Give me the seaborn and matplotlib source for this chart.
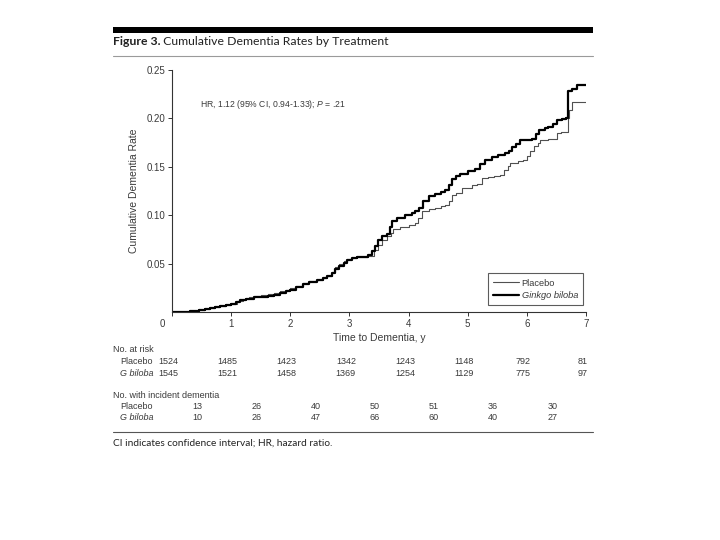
import matplotlib
matplotlib.use("Agg")
import matplotlib.pyplot as plt
import numpy as np
import pandas as pd
import seaborn as sns
from matplotlib.lines import Line2D
from matplotlib.transforms import blended_transform_factory, ScaledTranslation

# Kaplan-Meier style step data
ginkgo_time = [
    0, 0.30, 0.45, 0.55, 0.64, 0.72, 0.81, 0.92, 1.00, 1.08,
    1.15, 1.25, 1.38, 1.50, 1.62, 1.72, 1.83, 1.92, 2.00, 2.10,
    2.22, 2.32, 2.45, 2.55, 2.62, 2.70, 2.76, 2.82, 2.90, 2.96,
    3.05, 3.13, 3.32, 3.38, 3.44, 3.49, 3.55, 3.63, 3.68, 3.72,
    3.80, 3.94, 4.05, 4.11, 4.18, 4.25, 4.35, 4.45, 4.55, 4.62,
    4.68, 4.73, 4.80, 4.87, 5.00, 5.13, 5.21, 5.30, 5.41, 5.52,
    5.63, 5.70, 5.75, 5.82, 5.89, 6.09, 6.15, 6.20, 6.30, 6.36,
    6.44, 6.51, 6.60, 6.67, 6.69, 6.76, 6.85, 7.00,
]
ginkgo_rate = [
    0, 0.001, 0.002, 0.003, 0.004, 0.005, 0.006, 0.007, 0.008, 0.010,
    0.012, 0.013, 0.015, 0.016, 0.017, 0.018, 0.020, 0.022, 0.023, 0.026,
    0.029, 0.031, 0.033, 0.035, 0.037, 0.040, 0.044, 0.048, 0.051, 0.054,
    0.056, 0.057, 0.059, 0.063, 0.068, 0.074, 0.078, 0.081, 0.088, 0.094,
    0.097, 0.100, 0.102, 0.104, 0.107, 0.115, 0.120, 0.122, 0.124, 0.126,
    0.131, 0.137, 0.140, 0.143, 0.146, 0.148, 0.153, 0.157, 0.160, 0.162,
    0.164, 0.166, 0.170, 0.174, 0.178, 0.179, 0.184, 0.188, 0.190, 0.191,
    0.194, 0.198, 0.199, 0.200, 0.228, 0.230, 0.234, 0.235,
]
placebo_time = [
    0, 0.30, 0.45, 0.55, 0.64, 0.72, 0.81, 0.92, 1.00, 1.10,
    1.20, 1.30, 1.40, 1.50, 1.62, 1.72, 1.83, 1.92, 2.00, 2.10,
    2.22, 2.32, 2.45, 2.55, 2.62, 2.70, 2.76, 2.82, 2.90, 2.96,
    3.05, 3.13, 3.32, 3.41, 3.48, 3.55, 3.63, 3.70, 3.74, 3.85,
    4.00, 4.11, 4.16, 4.22, 4.35, 4.45, 4.55, 4.62, 4.68, 4.73,
    4.80, 4.90, 5.07, 5.16, 5.24, 5.35, 5.45, 5.55, 5.62, 5.68,
    5.72, 5.85, 5.94, 6.00, 6.06, 6.12, 6.18, 6.23, 6.35, 6.45,
    6.51, 6.58, 6.65, 6.69, 6.72, 6.76, 7.00,
]
placebo_rate = [
    0, 0.001, 0.002, 0.003, 0.004, 0.005, 0.006, 0.007, 0.008, 0.011,
    0.013, 0.015, 0.017, 0.018, 0.019, 0.020, 0.022, 0.023, 0.025, 0.027,
    0.030, 0.032, 0.033, 0.035, 0.037, 0.041, 0.046, 0.050, 0.053, 0.055,
    0.056, 0.057, 0.058, 0.064, 0.069, 0.074, 0.078, 0.082, 0.086, 0.088,
    0.090, 0.092, 0.097, 0.104, 0.106, 0.107, 0.109, 0.111, 0.115, 0.121,
    0.123, 0.128, 0.131, 0.132, 0.138, 0.139, 0.141, 0.142, 0.147, 0.151,
    0.154, 0.156, 0.157, 0.161, 0.166, 0.171, 0.175, 0.178, 0.179, 0.179,
    0.185, 0.186, 0.186, 0.200, 0.209, 0.217, 0.217,
]

years = [0, 1, 2, 3, 4, 5, 6, 7]
at_risk_placebo = [1524, 1485, 1423, 1342, 1243, 1148, 792, 81]
at_risk_ginkgo = [1545, 1521, 1458, 1369, 1254, 1129, 775, 97]
incident_placebo = [13, 26, 40, 50, 51, 36, 30]
incident_ginkgo = [10, 26, 47, 66, 60, 40, 27]

df = pd.concat([
    pd.DataFrame({"arm": "Placebo", "time": placebo_time, "rate": placebo_rate}),
    pd.DataFrame({"arm": "Ginkgo biloba", "time": ginkgo_time, "rate": ginkgo_rate}),
])

sns.set_style("ticks")
plt.rcParams["font.family"] = ["Liberation Sans", "DejaVu Sans"]
plt.rcParams["mathtext.fontset"] = "custom"
plt.rcParams["mathtext.rm"] = "Liberation Sans"
plt.rcParams["mathtext.it"] = "Liberation Sans:italic"

TXT = "#3a3a3a"
HEAD = ["Lato", "DejaVu Sans"]
W, H = 720, 540

fig = plt.figure(figsize=(7.2, 5.4), dpi=100)
ax = fig.add_axes([172 / W, 1 - 312 / H, 414 / W, 242 / H])

styles = {"Placebo": ("#505050", 0.8), "Ginkgo biloba": ("black", 1.6)}
for arm, (color, lw) in styles.items():
    sns.lineplot(data=df[df["arm"] == arm], x="time", y="rate", ax=ax,
                 estimator=None, sort=False, drawstyle="steps-post",
                 color=color, linewidth=lw)

ax.set_xlim(0, 7)
ax.set_ylim(0, 0.25)
ax.set_xticks(years)
ax.set_xticklabels([str(y) for y in years])
yt = [0.05, 0.10, 0.15, 0.20, 0.25]
ax.set_yticks(yt)
ax.set_yticklabels([f"{v:.2f}" for v in yt])
ax.tick_params(labelsize=7, length=3, width=0.7, color="#333333",
               labelcolor=TXT, pad=2)
# the shared origin label sits a little to the left
lbl0 = ax.get_xticklabels()[0]
lbl0.set_transform(lbl0.get_transform() + ScaledTranslation(-10 / 100, 0, fig.dpi_scale_trans))
for s in ["left", "bottom"]:
    ax.spines[s].set_color("#333333")
    ax.spines[s].set_linewidth(0.8)
sns.despine(ax=ax)
ax.set_xlabel("Time to Dementia, y", fontsize=7.5, color=TXT, labelpad=3)
ax.set_ylabel("Cumulative Dementia Rate", fontsize=7.5, color=TXT, labelpad=5)

ax.text(0.47, 0.214, r"HR, 1.12 (95% CI, 0.94-1.33); $\mathit{P}$ = .21",
        fontsize=6.2, color=TXT, va="center", ha="left")

handles = [Line2D([], [], color="#505050", lw=0.8), Line2D([], [], color="black", lw=1.6)]
leg = ax.legend(handles, ["Placebo", "Ginkgo biloba"], loc="lower right",
                bbox_to_anchor=(0.993, 0.029), borderaxespad=0, frameon=True,
                fancybox=False, edgecolor="#333333", fontsize=6.7, handlelength=2.8,
                handletextpad=0.3, labelspacing=0.35, borderpad=0.55)
leg.get_frame().set_linewidth(0.8)
leg.get_texts()[1].set_style("italic")
for t in leg.get_texts():
    t.set_color(TXT)

# header: black bar, title, rule
x0, x1 = 112.7 / W, 593 / W
fig.add_artist(plt.Rectangle((x0, 1 - 33.3 / H), x1 - x0, 6 / H, color="black",
                             transform=fig.transFigure, lw=0))
t1 = fig.text(x0, 1 - 42 / H, "Figure 3.", fontsize=8.8, fontweight="bold",
              family=HEAD, va="center", color="#222222")
ax.annotate(" Cumulative Dementia Rates by Treatment", xy=(1, 0.5), xycoords=t1,
            va="center", ha="left", fontsize=8.8, family=HEAD,
            color="#222222", annotation_clip=False)
fig.add_artist(Line2D([x0, x1], [1 - 56 / H] * 2, color="#9a9a9a", lw=0.8,
                      transform=fig.transFigure))

# number-at-risk and incident tables
trans = blended_transform_factory(ax.transData, fig.transFigure)
fs = 6.5
fig.text(x0, 1 - 349 / H, "No. at risk", fontsize=fs, color=TXT, va="center")
fig.text(120 / W, 1 - 361.5 / H, "Placebo", fontsize=fs, color=TXT, va="center")
fig.text(120 / W, 1 - 373 / H, "G biloba", fontsize=fs, color=TXT, va="center",
         style="italic")
for yr, p, g in zip(years, at_risk_placebo, at_risk_ginkgo):
    ax.text(yr - 0.06, 1 - 361.5 / H, str(p), transform=trans, fontsize=fs,
            color=TXT, ha="center", va="center", clip_on=False)
    ax.text(yr - 0.06, 1 - 373 / H, str(g), transform=trans, fontsize=fs,
            color=TXT, ha="center", va="center", clip_on=False)

fig.text(x0, 1 - 396 / H, "No. with incident dementia", fontsize=fs, color=TXT, va="center")
fig.text(120 / W, 1 - 406.7 / H, "Placebo", fontsize=fs, color=TXT, va="center")
fig.text(120 / W, 1 - 417.7 / H, "G biloba", fontsize=fs, color=TXT, va="center",
         style="italic")
for yr, p, g in zip(years[:-1], incident_placebo, incident_ginkgo):
    ax.text(yr + 0.43, 1 - 406.7 / H, str(p), transform=trans, fontsize=fs,
            color=TXT, ha="center", va="center", clip_on=False)
    ax.text(yr + 0.43, 1 - 417.7 / H, str(g), transform=trans, fontsize=fs,
            color=TXT, ha="center", va="center", clip_on=False)

fig.add_artist(Line2D([x0, x1], [1 - 431.7 / H] * 2, color="#555555", lw=0.8,
                      transform=fig.transFigure))
fig.text(x0, 1 - 443.3 / H, "CI indicates confidence interval; HR, hazard ratio.",
         fontsize=7.3, family=HEAD, color="#222222", va="center")

fig.savefig("out.png", dpi=100)
